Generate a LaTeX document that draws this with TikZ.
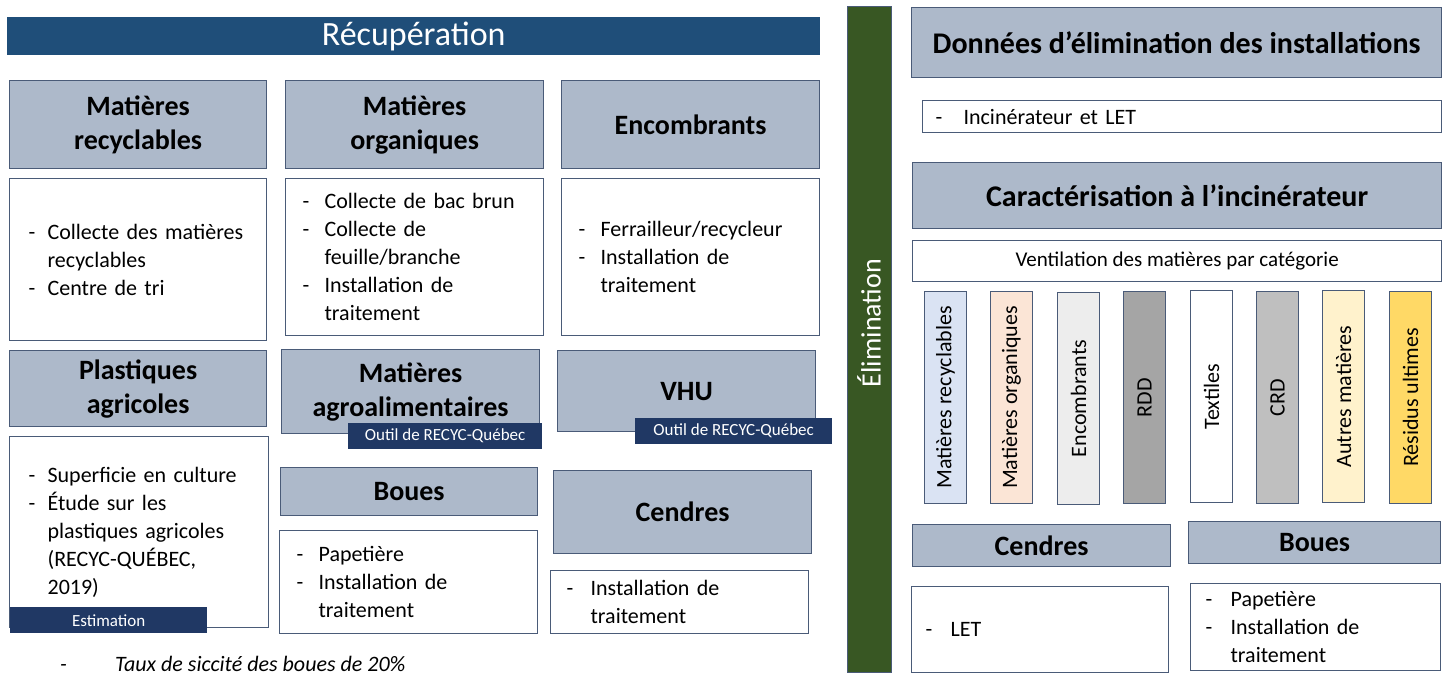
\documentclass[tikz,border=0pt]{standalone}
\usepackage{fontspec}
\setmainfont{Carlito}
\usepackage{tikz}
\usetikzlibrary{positioning,backgrounds,calc}

\definecolor{hdrfill}{HTML}{ADB9CA}
\definecolor{hdrline}{HTML}{4A5B78}
\definecolor{tagblue}{HTML}{203864}
\definecolor{banner}{HTML}{1F4E79}
\definecolor{elimgreen}{HTML}{385723}
\definecolor{catrecy}{HTML}{DAE3F3}
\definecolor{catorga}{HTML}{FBE5D6}
\definecolor{catenco}{HTML}{EDEDED}
\definecolor{catrdd}{HTML}{A5A5A5}
\definecolor{catcrd}{HTML}{BFBFBF}
\definecolor{catautre}{HTML}{FFF2CC}
\definecolor{catresid}{HTML}{FFD966}

\newcommand{\dsh}[1][22pt]{\makebox[#1][l]{-}}
\newcommand{\ind}[1][22pt]{\hspace*{#1}}

\tikzset{
  hdr/.style={draw=hdrline, line width=1.2pt, fill=hdrfill, anchor=north west, inner sep=0pt,
    align=center, font=\fontsize{28}{34}\selectfont\bfseries},
  txt/.style={draw=hdrline, line width=1.2pt, fill=white, anchor=north west, inner ysep=0pt,
    inner xsep=17pt, align=left, font=\fontsize{22}{28}\selectfont},
  tag/.style={fill=tagblue, anchor=north west, inner sep=0pt, text=white,
    font=\fontsize{17}{19}\selectfont},
  cat/.style={draw=hdrline, line width=1pt, anchor=north west, minimum width=42pt,
    minimum height=212pt, inner sep=0pt, font=\fontsize{22}{24}\selectfont},
}

\begin{document}
\begin{tikzpicture}[x=1pt,y=-1pt]
    \useasboundingbox (0,0) rectangle (1453,677);

        % recuperation
        \node[fill=banner, anchor=north west, minimum width=813pt, minimum height=38pt, inner sep=0pt,
            text=white, font=\fontsize{34}{36}\selectfont] (recup) at (7,17) {Récupération};

        \node[hdr, minimum width=257pt, minimum height=88pt] (h11) at (9,80) {Matières\\recyclables};
        \node[hdr, minimum width=258pt, minimum height=88pt] (h12) at (285,80) {Matières\\organiques};
        \node[hdr, minimum width=258pt, minimum height=88pt] (h13) at (561,80) {Encombrants};

        \node[txt, inner xsep=19pt, text width=219pt, minimum height=162pt] (c11) at (9,178)
            {\dsh[19pt]Collecte des matières\\ \ind[19pt]recyclables\\ \dsh[19pt]Centre de tri};
        \node[txt, text width=224pt, minimum height=157pt] (c12) at (285,178)
            {\dsh Collecte de bac brun\\ \dsh Collecte de\\ \ind feuille/branche\\ \dsh Installation de\\ \ind traitement};
        \node[txt, text width=224pt, minimum height=157pt] (c13) at (561,178)
            {\dsh Ferrailleur/recycleur\\ \dsh Installation de\\ \ind traitement};

        \node[hdr, minimum width=257pt, minimum height=76pt] (h21) at (9,350) {Plastiques\\agricoles};
        \node[hdr, minimum width=258pt, minimum height=84pt] (h22) at (281,349) {Matières\\agroalimentaires};
        \node[hdr, minimum width=258pt, minimum height=81pt] (h23) at (557,350) {VHU};

        \node[tag, minimum width=194pt, minimum height=26pt] (t22) at (348,423) {Outil de RECYC-Québec};
        \node[tag, minimum width=197pt, minimum height=26pt] (t23) at (635,418) {Outil de RECYC-Québec};

        \node[txt, inner xsep=19pt, text width=221pt, minimum height=191pt] (c21) at (9,436)
            {\dsh[19pt]Superficie en culture\\ \dsh[19pt]Étude sur les\\ \ind[19pt]plastiques agricoles\\
             \ind[19pt](RECYC-QUÉBEC,\\ \ind[19pt]2019)};
        \node[tag, minimum width=197pt, minimum height=26pt] (t21) at (10,607) {Estimation};

        \node[hdr, minimum width=257pt, minimum height=48pt] (h32) at (280,467) {Boues};
        \node[txt, text width=224pt, minimum height=103pt] (c32) at (279,530)
            {\dsh Papetière\\ \dsh Installation de\\ \ind traitement};
        \node[hdr, minimum width=258pt, minimum height=83pt] (h33) at (553,470) {Cendres};
        \node[txt, inner xsep=16pt, text width=226pt, minimum height=63pt] (c33) at (550,570)
            {\dsh[24pt]Installation de\\ \ind[24pt]traitement};

        \node[anchor=west, inner sep=0pt, font=\fontsize{22}{24}\selectfont\itshape] (note) at (60,664)
            {\dsh[55pt]Taux de siccité des boues de 20\%};

        % elimination
        \node[fill=elimgreen, draw=hdrline, line width=1pt, anchor=north west, minimum width=44pt,
            minimum height=666pt, inner sep=0pt] (elim) at (847,6) {};
        \node[text=white, rotate=90, inner sep=0pt, font=\fontsize{28}{30}\selectfont] (elimtxt) at (869,323) {Élimination};

        \node[hdr, minimum width=530pt, minimum height=70pt, font=\fontsize{30}{34}\selectfont\bfseries] (d1) at (911,7)
            {Données d’élimination des installations};
        \node[txt, inner xsep=13pt, text width=493pt, minimum height=32pt] (d2) at (922,100)
            {\dsh[28pt]Incinérateur et LET};
        \node[hdr, minimum width=529pt, minimum height=66pt, font=\fontsize{30}{34}\selectfont\bfseries] (k1) at (912,162)
            {Caractérisation à l’incinérateur};
        \node[draw=hdrline, line width=1.2pt, fill=white, anchor=north west, minimum width=529pt,
            minimum height=41pt, inner sep=0pt, font=\fontsize{21}{24}\selectfont] (k2) at (912,240)
            {Ventilation des matières par catégorie};

        \node[cat, fill=catrecy] (v1) at (924,291) {\rotatebox{90}{Matières recyclables}};
        \node[cat, fill=catorga] (v2) at (990,291) {\rotatebox{90}{Matières organiques}};
        \node[cat, fill=catenco] (v3) at (1057,292) {\rotatebox{90}{Encombrants}};
        \node[cat, fill=catrdd] (v4) at (1123,291) {\rotatebox{90}{RDD}};
        \node[cat, fill=white] (v5) at (1190,290) {\rotatebox{90}{Textiles}};
        \node[cat, fill=catcrd] (v6) at (1256,291) {\rotatebox{90}{CRD}};
        \node[cat, fill=catautre] (v7) at (1322,290) {\rotatebox{90}{Autres matières}};
        \node[cat, fill=catresid] (v8) at (1389,291) {\rotatebox{90}{Résidus ultimes}};

        \node[hdr, minimum width=258pt, minimum height=42pt] (e1) at (912,524) {Cendres};
        \node[hdr, minimum width=252pt, minimum height=42pt] (e2) at (1188,521) {Boues};
        \node[txt, inner xsep=14pt, text width=229pt, minimum height=86pt] (e3) at (911,586)
            {\dsh[25pt]LET};
        \node[txt, inner xsep=15pt, text width=220pt, minimum height=87pt] (e4) at (1190,583)
            {\dsh[25pt]Papetière\\ \dsh[25pt]Installation de\\ \ind[25pt]traitement};

\end{tikzpicture}
\end{document}
